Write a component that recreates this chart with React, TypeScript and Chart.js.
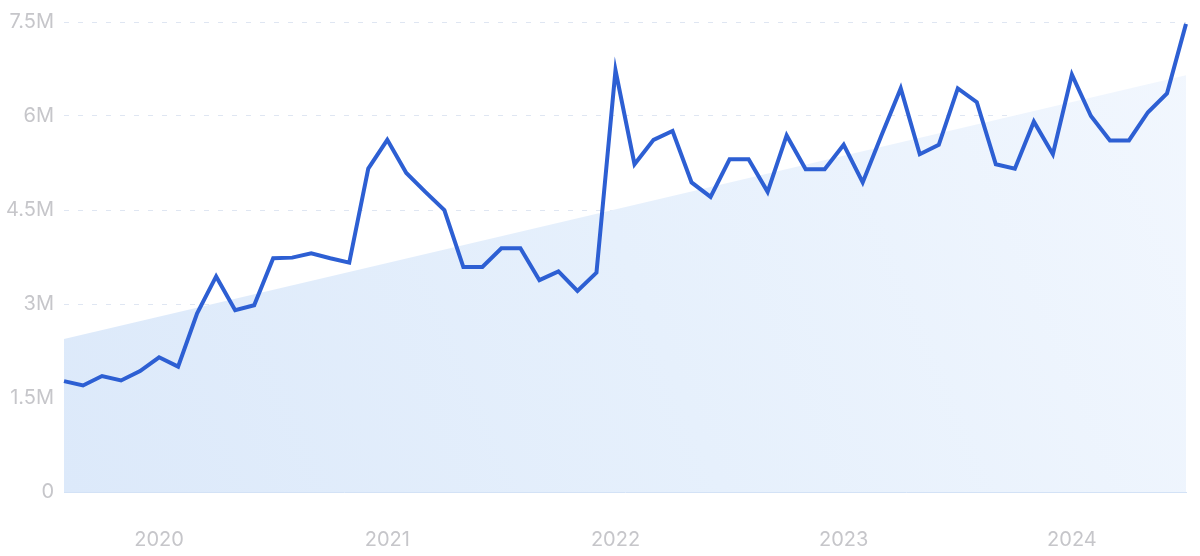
import React, { useEffect, useRef } from "react";
import { Chart, registerables } from "chart.js";

Chart.register(...registerables);

// Monthly values (millions), Aug 2019 .. Jul 2024
const monthLabels: string[] = [];
const startYear = 2019;
const startMonth = 8; // August
const values: number[] = [
  1.77, 1.70, 1.85, 1.78, 1.93, 2.15, 2.00, 2.85, 3.44, 2.90,
  2.98, 3.73, 3.74, 3.81, 3.73, 3.66, 5.16, 5.62, 5.09, 4.79,
  4.50, 3.59, 3.59, 3.89, 3.89, 3.38, 3.52, 3.21, 3.50, 6.73,
  5.23, 5.62, 5.76, 4.94, 4.71, 5.31, 5.31, 4.79, 5.69, 5.15,
  5.15, 5.54, 4.94, 5.70, 6.44, 5.39, 5.54, 6.44, 6.22, 5.23,
  5.16, 5.91, 5.39, 6.66, 6.00, 5.61, 5.61, 6.06, 6.36, 7.47,
];
for (let i = 0; i < values.length; i++) {
  const m = startMonth - 1 + i;
  const y = startYear + Math.floor(m / 12);
  const mm = (m % 12) + 1;
  monthLabels.push(`${y}-${String(mm).padStart(2, "0")}`);
}
// Trend line endpoints (millions)
const trendStartEnd: number[] = [2.44, 6.65];
const yTicks: number[] = [0, 1.5, 3, 4.5, 6, 7.5];

export default function App() {
  const ref = useRef<HTMLCanvasElement | null>(null);
  useEffect(() => {
    document.body.style.margin = "0";
    const ctx = ref.current!;
    const trendData: (number | null)[] = values.map(() => null);
    trendData[0] = trendStartEnd[0];
    trendData[trendData.length - 1] = trendStartEnd[1];
    const chart = new Chart(ctx, {
      type: "line",
      data: {
        labels: monthLabels,
        datasets: [
          {
            data: values,
            borderColor: "#2d5fd3",
            borderWidth: 4,
            pointRadius: 0,
            tension: 0,
            fill: false,
            order: 0,
          },
          {
            data: trendData,
            spanGaps: true,
            borderWidth: 0,
            borderColor: "rgba(0,0,0,0)",
            pointRadius: 0,
            fill: "origin",
            order: 1,
            backgroundColor: (c: any) => {
              const area = c.chart.chartArea;
              if (!area) return "#e3eefc";
              const g = c.chart.ctx.createLinearGradient(area.left, area.bottom, area.right, area.top);
              g.addColorStop(0, "#dce9fa");
              g.addColorStop(0.5, "#e6f0fc");
              g.addColorStop(1, "#f2f7fe");
              return g;
            },
          },
        ],
      },
      options: {
        animation: false,
        responsive: false,
        maintainAspectRatio: false,
        layout: { padding: { top: 22, right: 14, left: 0, bottom: 0 } },
        plugins: { legend: { display: false }, tooltip: { enabled: false } },
        scales: {
          x: {
            type: "category",
            offset: false,
            grid: { display: false, drawTicks: false },
            border: { display: true, color: "#d3e2f6", width: 1 },
            ticks: {
              autoSkip: false,
              maxRotation: 0,
              padding: 36,
              color: "#c6c6ca",
              font: { family: "Inter", size: 20 },
              callback: (v: any, i: number) => {
                const l = monthLabels[i];
                return l.endsWith("-01") ? l.slice(0, 4) : "";
              },
            },
            afterFit: (s: any) => {
              s.height = 64;
              s.paddingLeft = 0;
              s.paddingRight = 0;
            },
          },
          y: {
            min: 0,
            max: 7.5,
            afterBuildTicks: (s: any) => { s.ticks = yTicks.map((v) => ({ value: v })); },
            grid: {
              drawTicks: false,
              color: (c: any) => (c.tick && c.tick.value === 0 ? "rgba(0,0,0,0)" : "#dfe6f2"),
              lineWidth: 1,
            },
            border: { display: false, dash: [5, 9] },
            ticks: {
              padding: 10,
              color: "#c6c6ca",
              font: { family: "Inter", size: 20 },
              callback: (v: any) => (v === 0 ? "0" : `${v}M`),
            },
            afterFit: (s: any) => { s.width = 64; },
          },
        },
      },
    });
    return () => chart.destroy();
  }, []);
  return (
    <div style={{ position: "relative", width: 1200, height: 556 }}>
      <canvas ref={ref} width={1200} height={556} style={{ width: 1200, height: 556, display: "block" }} />
    </div>
  );
}
